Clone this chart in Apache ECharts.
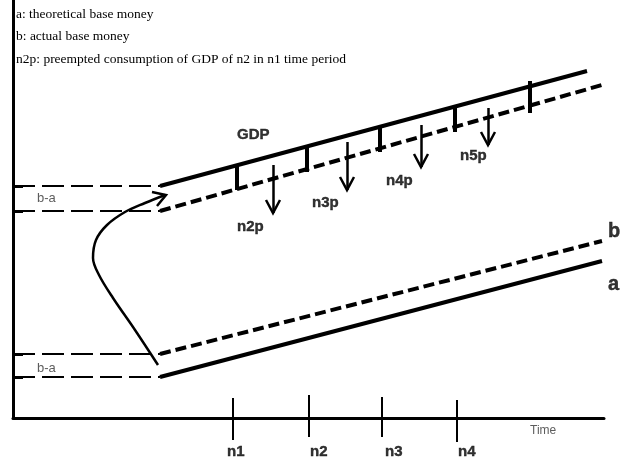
<!DOCTYPE html>
<html>
<head>
<meta charset="utf-8">
<script src="https://cdn.jsdelivr.net/npm/echarts@6/dist/echarts.min.js"></script>
<style>html,body{margin:0;padding:0;background:#fff}#c{width:621px;height:462px}</style>
</head>
<body>
<div id="c"></div>
<script>
// ---- data (diagram units: x = time, y = money) ----
var noteLines = ['a: theoretical base money', 'b: actual base money', 'n2p: preempted consumption of GDP of n2 in n1 time period'];
var gdpTheory = [[147, 232], [574, 347]];
var gdpActual = [[147, 207], [589, 333]];
var baseB = [[147, 64], [589, 177]];
var baseA = [[147, 41], [589, 157]];
var refLevels = [232, 207, 64, 41];
var refStartX = 0, refEndX = 147;
var gapBarX = [224, 294, 367, 442, 517];
var gapBarTop = [253, 272, 292, 312, 337];
var gapBarBottom = [228, 246, 266, 286, 305];
var arrowX = [260, 334, 408, 475];
var arrowTop = [253, 276, 293, 310];
var arrowBottom = [205, 228, 251, 273];
var curvePts = [[145, 53], [122, 88], [100, 120], [86, 143], [80, 160], [83, 178], [94, 193], [112, 206], [132, 215], [152, 223]];
var curveHead = [[139, 226], [153, 223], [144, 212]];
var timeTicks = ['n1', 'n2', 'n3', 'n4'];
var timeTickX = [220, 296, 369, 444];
var timeTickTop = [20, 23, 21, 18];
var timeTickBottom = [-22, -19, -19, -24];
var timeTickLabelX = [214, 297, 372, 445];
var pLabels = ['GDP', 'n2p', 'n3p', 'n4p', 'n5p'];
var pLabelPos = [[224, 283], [224, 191], [299, 215], [373, 237], [447, 262]];
var lineLabels = ['b', 'a'];
var lineLabelPos = [[595, 187], [595, 134]];
var gapLabels = ['b-a', 'b-a'];
var gapLabelPos = [[24, 220], [24, 50]];

var chart = echarts.init(document.getElementById('c'));
var black = '#000';

function seg(coords) { return { coords: coords }; }

var refSegs = refLevels.map(function (y) { return seg([[refStartX, y], [refEndX, y]]); });
var refMarks = refLevels.map(function (y) { return seg([[refStartX, y], [refStartX + 10, y]]); });
var barSegs = gapBarX.map(function (x, i) { return seg([[x, gapBarTop[i]], [x, gapBarBottom[i]]]); });
var shaftSegs = arrowX.map(function (x, i) { return seg([[x, arrowTop[i]], [x, arrowBottom[i]]]); });
var headSegs = arrowX.map(function (x, i) { return seg([[x - 7, arrowBottom[i] + 13], [x, arrowBottom[i]], [x + 7, arrowBottom[i] + 13]]); });
var tickSegs = timeTickX.map(function (x, i) { return seg([[x, timeTickTop[i]], [x, timeTickBottom[i]]]); });

var boldLbl = function (size) {
  return { fontSize: size, fontWeight: 'bold', color: black, textBorderColor: black, textBorderWidth: 0.4 };
};
var labelData = [];
pLabels.forEach(function (t, i) {
  labelData.push({ value: pLabelPos[i], name: t, label: boldLbl(15) });
});
lineLabels.forEach(function (t, i) {
  labelData.push({ value: lineLabelPos[i], name: t, label: boldLbl(20) });
});
gapLabels.forEach(function (t, i) {
  labelData.push({ value: gapLabelPos[i], name: t, label: { fontSize: 13, fontWeight: 'normal', color: '#333' } });
});
timeTicks.forEach(function (t, i) {
  labelData.push({ value: [timeTickLabelX[i], -34], name: t, label: boldLbl(15) });
});
labelData.push({ value: [517, -13], name: 'Time', label: { fontSize: 12, fontWeight: 'normal', color: '#333' } });

chart.setOption({
  animation: false,
  backgroundColor: '#fff',
  title: {
    text: noteLines.join('\n'),
    left: 16, top: 3, padding: 0,
    textStyle: { fontFamily: 'Liberation Serif', fontSize: 13.5, fontWeight: 'normal', color: '#000', lineHeight: 22.5 }
  },
  grid: { left: 13, right: 17, top: 0, bottom: 44 },
  xAxis: {
    type: 'value', min: 0, max: 591,
    axisLine: { show: true, onZero: false, lineStyle: { color: black, width: 3 } },
    axisTick: { show: false }, axisLabel: { show: false }, splitLine: { show: false }
  },
  yAxis: {
    type: 'value', min: 0, max: 418,
    axisLine: { show: true, onZero: false, lineStyle: { color: black, width: 3 } },
    axisTick: { show: false }, axisLabel: { show: false }, splitLine: { show: false }
  },
  series: [
    { type: 'line', data: gdpTheory, symbol: 'none', lineStyle: { color: black, width: 4 } },
    { type: 'line', data: gdpActual, symbol: 'none', lineStyle: { color: black, width: 4, type: [11, 5] } },
    { type: 'line', data: baseB, symbol: 'none', lineStyle: { color: black, width: 4, type: [11, 5] } },
    { type: 'line', data: baseA, symbol: 'none', lineStyle: { color: black, width: 4 } },
    { type: 'lines', coordinateSystem: 'cartesian2d', clip: false, data: refSegs, lineStyle: { color: black, width: 2, type: [22, 7], opacity: 1 } },
    { type: 'lines', coordinateSystem: 'cartesian2d', clip: false, data: refMarks, lineStyle: { color: black, width: 3, opacity: 1 } },
    { type: 'lines', coordinateSystem: 'cartesian2d', clip: false, data: barSegs, lineStyle: { color: black, width: 4, opacity: 1 } },
    { type: 'lines', coordinateSystem: 'cartesian2d', clip: false, data: shaftSegs, lineStyle: { color: black, width: 2.5, opacity: 1 } },
    { type: 'lines', coordinateSystem: 'cartesian2d', clip: false, polyline: true, data: headSegs, lineStyle: { color: black, width: 2.5, opacity: 1 } },
    { type: 'lines', coordinateSystem: 'cartesian2d', clip: false, data: tickSegs, lineStyle: { color: black, width: 2, opacity: 1 } },
    { type: 'line', data: curvePts, smooth: 0.35, symbol: 'none', lineStyle: { color: black, width: 2.5 } },
    { type: 'lines', coordinateSystem: 'cartesian2d', clip: false, polyline: true, data: [seg(curveHead)], lineStyle: { color: black, width: 2.5, opacity: 1 } },
    {
      type: 'scatter', data: labelData, symbolSize: 0, clip: false, silent: true,
      label: { show: true, position: 'right', distance: 0, formatter: function (p) { return p.name; }, fontFamily: 'Liberation Sans' }
    }
  ]
});
</script>
</body>
</html>
